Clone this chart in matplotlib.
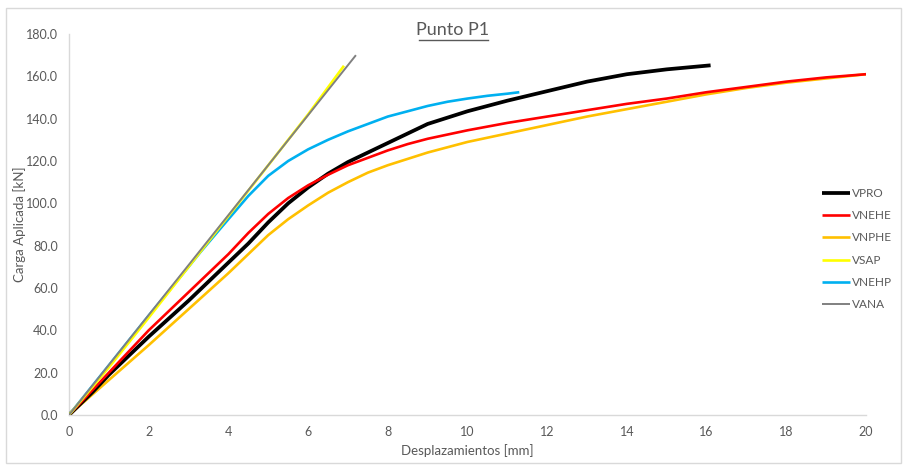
import matplotlib
matplotlib.use("Agg")
import matplotlib.pyplot as plt
from matplotlib.patches import Rectangle

# Load-displacement curves, point P1
vpro_x = [0, 0.6, 1, 2, 3, 4, 4.5, 5, 5.5, 6, 6.5, 7, 7.5, 8, 8.5, 9, 9.5, 10, 10.5, 11, 12, 13, 14, 15, 16.1]
vpro_y = [0, 11, 19, 37, 54, 72, 81, 91, 100, 107.5, 114, 119.5, 124, 128.5, 133, 137.5, 140.5, 143.5, 146, 148.5, 153, 157.5, 161, 163.3, 165.2]

vnehe_x = [0, 1, 2, 3, 4, 4.5, 5, 5.5, 6, 6.5, 7, 7.5, 8, 8.5, 9, 9.5, 10, 11, 12, 13, 14, 15, 16, 17, 18, 19, 20]
vnehe_y = [0, 20, 40, 58, 76, 86, 95, 102.5, 108.5, 113.5, 118, 121.5, 125, 128, 130.5, 132.5, 134.5, 138, 141, 144, 147, 149.5, 152.5, 155, 157.5, 159.5, 161]

vnphe_x = [0, 1, 2, 3, 4, 4.5, 5, 5.5, 6, 6.5, 7, 7.5, 8, 8.5, 9, 9.5, 10, 11, 12, 13, 14, 15, 16, 17, 18, 19, 20]
vnphe_y = [0, 16.5, 33, 50, 67, 76, 85, 92.5, 99, 105, 110, 114.5, 118, 121, 124, 126.5, 129, 133, 137, 141, 144.5, 148, 151.5, 154.5, 157, 159, 161]

vsap_x = [0, 1, 2, 3, 4, 5, 6, 6.9]
vsap_y = [0, 22.5, 46, 70, 94, 118, 142, 165]

vnehp_x = [0, 1, 2, 3, 3.3, 3.75, 4, 4.5, 5, 5.5, 6, 6.5, 7, 7.5, 8, 8.5, 9, 9.5, 10, 10.5, 11, 11.3]
vnehp_y = [0, 23.5, 47, 70, 77, 87, 92.5, 103.5, 113, 120, 125.5, 130, 134, 137.5, 141, 143.5, 146, 148, 149.5, 150.8, 151.8, 152.5]

vana_x = [0, 7.2]
vana_y = [0, 170]

x_ticks = list(range(0, 21, 2))
y_ticks = list(range(0, 181, 20))

plt.rcParams['font.family'] = ['Lato', 'DejaVu Sans']
grey_text = '#595959'

fig = plt.figure(figsize=(9.04, 4.65), dpi=100)
ax = fig.add_axes([69 / 904, 1 - 415 / 465, (866 - 69) / 904, (415 - 34) / 465])

line_kw = dict(solid_joinstyle='round', solid_capstyle='butt')
ax.plot(vpro_x, vpro_y, color='black', lw=2.7, label='VPRO', zorder=3, **line_kw)
ax.plot(vnehe_x, vnehe_y, color='#ff0000', lw=1.9, label='VNEHE', zorder=4, **line_kw)
ax.plot(vnphe_x, vnphe_y, color='#ffc000', lw=1.9, label='VNPHE', zorder=2, **line_kw)
ax.plot(vsap_x, vsap_y, color='#ffff00', lw=1.9, label='VSAP', zorder=5, **line_kw)
ax.plot(vnehp_x, vnehp_y, color='#00b0f0', lw=1.9, label='VNEHP', zorder=4, **line_kw)
ax.plot(vana_x, vana_y, color='#808080', lw=1.4, label='VANA', zorder=6, **line_kw)

ax.set_xlim(0, 20)
ax.set_ylim(0, 180)
ax.set_xticks(x_ticks)
ax.set_xticklabels([str(t) for t in x_ticks])
ax.set_yticks(y_ticks)
ax.set_yticklabels([f"{t:.1f}" for t in y_ticks])
ax.tick_params(length=0, labelsize=9, labelcolor=grey_text, pad=8)

for side in ('top', 'right'):
    ax.spines[side].set_visible(False)
for side in ('left', 'bottom'):
    ax.spines[side].set_color('#d9d9d9')
    ax.spines[side].set_linewidth(1.0)

ax.set_xlabel('Desplazamientos [mm]', fontsize=9.5, color=grey_text)
ax.set_ylabel('Carga Aplicada [kN]', fontsize=9.5, color=grey_text)
ax.xaxis.set_label_coords(0.5, (415 - 451) / 381, transform=ax.transAxes)
ax.yaxis.set_label_coords((20 - 69) / 797, 0.5, transform=ax.transAxes)
ax.xaxis.label.set_va('center')
ax.yaxis.label.set_va('center')

fig.text(453 / 904, 1 - 30 / 465, 'Punto P1', ha='center', va='center',
         fontsize=13, color=grey_text)
fig.add_artist(plt.Line2D([419 / 904, 488 / 904], [1 - 40 / 465, 1 - 40 / 465],
                          color=grey_text, lw=1.0))

leg = ax.legend(loc='upper left', bbox_to_anchor=(822 / 904, 1 - 188 / 465),
                bbox_transform=fig.transFigure, frameon=False, fontsize=8.5,
                handlelength=2.4, handletextpad=0.15, labelspacing=0.95,
                borderaxespad=0, borderpad=0)
for t in leg.get_texts():
    t.set_color(grey_text)

fig.add_artist(Rectangle((6 / 904, 1 - 463 / 465), (901 - 6) / 904, (463 - 8) / 465,
                         transform=fig.transFigure, fill=False,
                         edgecolor='#d9d9d9', lw=1.0))

fig.savefig('out.png', dpi=100)
